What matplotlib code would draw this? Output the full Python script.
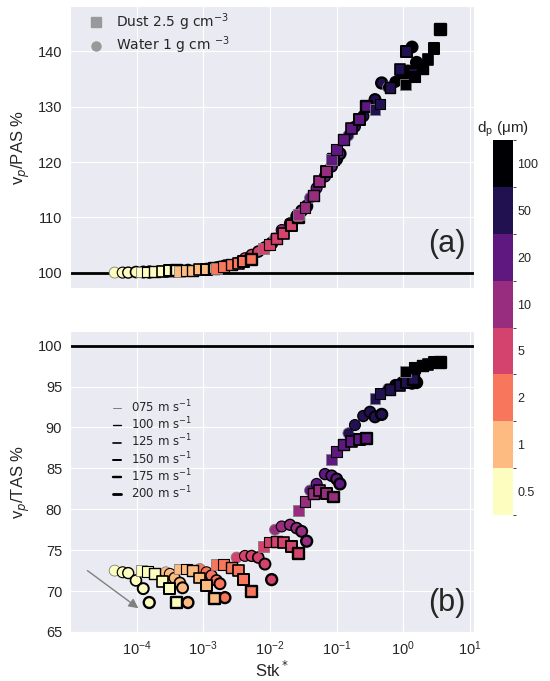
import numpy as np
import matplotlib
matplotlib.use("Agg")
import matplotlib.pyplot as plt
import seaborn as sns
from matplotlib.colors import ListedColormap, BoundaryNorm
from matplotlib.lines import Line2D

# particle diameters (um) and airspeeds (m/s); each group of six points below
# runs through the speeds in order for one diameter
diameters = [0.5, 1, 2, 5, 10, 20, 50, 100]
speeds = [75, 100, 125, 150, 175, 200]

water_stk = [4.7e-5, 6.2e-5, 7.5e-5, 9.8e-5, 1.26e-4, 1.55e-4,
             2.75e-4, 3.16e-4, 3.72e-4, 4.47e-4, 4.9e-4, 5.89e-4,
             8.9e-4, 1.12e-3, 1.33e-3, 1.58e-3, 1.78e-3, 2.11e-3,
             3.16e-3, 4.22e-3, 5.31e-3, 6.68e-3, 8.41e-3, 1.06e-2,
             1.19e-2, 1.5e-2, 2.0e-2, 2.51e-2, 2.99e-2, 3.55e-2,
             3.98e-2, 5.01e-2, 6.68e-2, 8.41e-2, 0.100, 0.112,
             0.150, 0.188, 0.251, 0.316, 0.376, 0.473,
             0.589, 0.759, 0.955, 1.17, 1.35, 1.58]
water_pas = [100.0, 100.0, 100.0, 100.1, 100.1, 100.1,
             100.1, 100.2, 100.2, 100.3, 100.3, 100.4,
             100.5, 100.7, 100.8, 100.9, 101.0, 101.2,
             101.8, 102.6, 103.2, 103.8, 104.5, 105.3,
             106.2, 107.7, 108.9, 110.2, 111.2, 112.0,
             113.5, 115.3, 117.4, 119.2, 120.5, 121.5,
             124.8, 126.4, 128.3, 130.0, 131.3, 134.3,
             133.5, 134.5, 135.5, 136.5, 140.8, 138.0]
water_tas = [72.5, 72.3, 72.2, 71.3, 70.3, 68.6,
             72.3, 72.1, 71.6, 71.0, 70.4, 68.6,
             72.7, 72.3, 71.9, 71.3, 70.9, 69.2,
             74.1, 74.3, 74.3, 74.1, 73.3, 71.4,
             77.5, 77.9, 78.1, 77.7, 77.3, 76.1,
             82.3, 83.1, 84.3, 84.1, 83.7, 83.1,
             89.3, 90.3, 91.4, 91.9, 91.3, 91.6,
             94.7, 95.2, 95.5, 95.8, 95.4, 95.5]

dust_stk = [1.19e-4, 1.45e-4, 1.88e-4, 2.45e-4, 3.16e-4, 3.98e-4,
            4.47e-4, 5.62e-4, 6.92e-4, 8.91e-4, 1.12e-3, 1.48e-3,
            1.58e-3, 2.04e-3, 2.66e-3, 3.35e-3, 3.98e-3, 5.31e-3,
            7.94e-3, 1.0e-2, 1.26e-2, 1.58e-2, 2.11e-2, 2.66e-2,
            2.66e-2, 3.35e-2, 4.47e-2, 5.62e-2, 7.08e-2, 8.91e-2,
            8.41e-2, 0.100, 0.126, 0.168, 0.219, 0.282,
            0.376, 0.447, 0.631, 0.891, 1.12, 1.41,
            1.06, 1.45, 1.91, 2.34, 2.88, 3.55]
dust_pas = [100.1, 100.1, 100.2, 100.2, 100.3, 100.3,
            100.2, 100.3, 100.4, 100.5, 100.6, 100.8,
            100.8, 101.1, 101.4, 101.7, 102.0, 102.4,
            104.3, 105.0, 106.2, 107.1, 108.6, 110.0,
            110.5, 111.7, 114.0, 116.5, 118.3, 120.5,
            120.5, 122.2, 124.0, 126.0, 127.7, 130.1,
            129.5, 130.5, 133.4, 136.7, 140.0, 136.0,
            134.0, 135.5, 137.0, 138.5, 140.5, 144.0]
dust_tas = [72.5, 72.4, 72.2, 71.2, 70.3, 68.6,
            72.7, 72.7, 72.5, 71.6, 70.7, 69.1,
            73.2, 73.3, 72.9, 72.5, 71.4, 70.0,
            75.5, 76.0, 76.1, 75.9, 75.5, 74.6,
            79.9, 81.0, 81.9, 82.3, 81.9, 81.5,
            86.1, 87.1, 87.9, 88.3, 88.5, 88.6,
            93.5, 94.1, 94.7, 95.1, 95.5, 95.9,
            96.8, 97.3, 97.6, 97.7, 97.9, 98.0]

sns.set_style("darkgrid")
plt.rcParams["font.family"] = ["Liberation Sans", "DejaVu Sans"]

# edge width / colour marks the airspeed
edge_widths = [0.6, 0.8, 1.0, 1.2, 1.45, 1.7]
edge_colors = ["grey", "k", "k", "k", "k", "k"]

cmap = ListedColormap(plt.cm.magma(np.linspace(0, 1, 8))[::-1])
norm = BoundaryNorm(np.arange(9) - 0.5, cmap.N)

d_idx = np.repeat(np.arange(len(diameters)), len(speeds))
s_idx = np.tile(np.arange(len(speeds)), len(diameters))
lws = np.array(edge_widths)[s_idx]
ecs = np.array(edge_colors)[s_idx]

fig = plt.figure(figsize=(5.5, 6.81), dpi=100)
ax1 = fig.add_axes([0.127, 0.577, 0.735, 0.414])
ax2 = fig.add_axes([0.127, 0.072, 0.735, 0.442])
cax = fig.add_axes([0.896, 0.244, 0.036, 0.550])

for ax, wy, dy in [(ax1, water_pas, dust_pas), (ax2, water_tas, dust_tas)]:
    ax.axhline(100, color="k", lw=2, zorder=1)
    ax.scatter(water_stk, wy, c=d_idx, cmap=cmap, norm=norm, marker="o", s=62,
               edgecolors=ecs, linewidths=lws, zorder=3)
    ax.scatter(dust_stk, dy, c=d_idx, cmap=cmap, norm=norm, marker="s", s=62,
               edgecolors=ecs, linewidths=lws, zorder=3)
    ax.set_xscale("log")
    ax.set_xlim(1e-5, 11.5)
    ax.set_xticks([1e-4, 1e-3, 1e-2, 1e-1, 1e0, 1e1])
    ax.minorticks_off()
    ax.tick_params(labelsize=10.5, pad=2)

ax1.set_ylim(97.2, 148.2)
ax1.set_yticks([100, 110, 120, 130, 140])
ax1.set_xticklabels([])
ax1.set_ylabel("v$_p$/PAS %", fontsize=12, labelpad=4)
ax1.text(0.978, 0.156, "(a)", transform=ax1.transAxes, fontsize=22,
         ha="right", va="center")

ax2.set_ylim(65, 101.8)
ax2.set_yticks([65, 70, 75, 80, 85, 90, 95, 100])
ax2.set_ylabel("v$_p$/TAS %", fontsize=12, labelpad=4)
ax2.set_xlabel("Stk$^*$", fontsize=12, labelpad=1)
ax2.text(0.978, 0.095, "(b)", transform=ax2.transAxes, fontsize=22,
         ha="right", va="center")
ax2.annotate("", xy=(1.15e-4, 67.7), xytext=(1.7e-5, 72.7),
             arrowprops=dict(arrowstyle="-|>", color="grey", lw=1,
                             mutation_scale=14))

# material legend
mat_handles = [
    Line2D([], [], marker="s", ls="", color="#999999", ms=6.5),
    Line2D([], [], marker="o", ls="", color="#999999", ms=6.5),
]
ax1.legend(mat_handles, ["Dust 2.5 g cm$^{-3}$", "Water 1 g cm $^{-3}$"],
           loc="upper left", bbox_to_anchor=(0.0, 1.025), frameon=False,
           prop={"family": "DejaVu Sans", "size": 10}, handletextpad=0.4,
           labelspacing=0.12)

# airspeed legend
spd_handles = [Line2D([], [], color=c, lw=w * 1.2)
               for c, w in zip(edge_colors, edge_widths)]
spd_labels = ["%03d m s$^{-1}$" % v for v in speeds]
ax2.legend(spd_handles, spd_labels, loc="upper left",
           bbox_to_anchor=(0.08, 0.81), frameon=False, handlelength=0.7,
           prop={"family": "DejaVu Sans", "size": 8.5}, labelspacing=0.05,
           handletextpad=0.8)

cb = fig.colorbar(plt.cm.ScalarMappable(norm=norm, cmap=cmap), cax=cax,
                  ticks=np.arange(8))
cb.outline.set_visible(False)
cb.set_ticklabels([str(d) for d in diameters])
cb.ax.tick_params(labelsize=9, length=0)
cb.ax.set_title("d$_\\mathregular{p}$ (\u03bcm)", fontsize=11, pad=6)

plt.savefig("out.png", dpi=100)
